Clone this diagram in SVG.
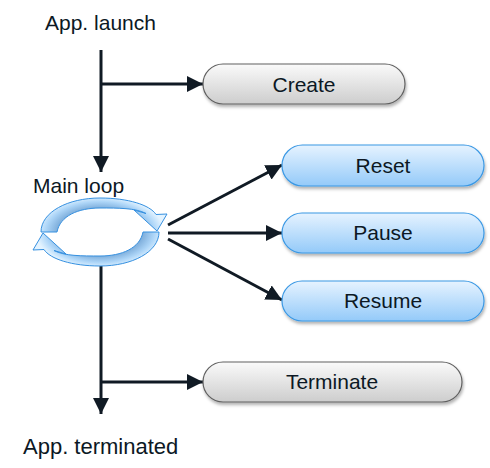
<svg xmlns="http://www.w3.org/2000/svg" width="490" height="468" viewBox="0 0 490 468">
<defs>
<linearGradient id="gGray" x1="0" y1="0" x2="0" y2="1">
<stop offset="0" stop-color="#fafafa"/><stop offset="1" stop-color="#cdcdcd"/>
</linearGradient>
<linearGradient id="gBlue" x1="0" y1="0" x2="0" y2="1">
<stop offset="0" stop-color="#e6f3ff"/><stop offset="1" stop-color="#94caf9"/>
</linearGradient>
<radialGradient id="gLoop" gradientUnits="userSpaceOnUse" cx="100" cy="232" r="64" gradientTransform="translate(100 232) scale(1 0.56) translate(-100 -232)">
<stop offset="0.62" stop-color="#72a4d4"/><stop offset="0.85" stop-color="#aed6f8"/><stop offset="1" stop-color="#e3f3ff"/>
</radialGradient>
<filter id="sh" x="-10%" y="-20%" width="120%" height="150%">
<feDropShadow dx="1" dy="2.5" stdDeviation="1.5" flood-color="#000" flood-opacity="0.3"/>
</filter>
<marker id="ah" markerUnits="userSpaceOnUse" markerWidth="17" markerHeight="16" refX="16" refY="8" orient="auto">
<path d="M0,0 L16,8 L0,16 z" fill="#101a24"/>
</marker>
<style>
.t{font-family:"Liberation Sans",Arial,sans-serif;font-size:21px;fill:#0c1824}
.c{text-anchor:middle}
.gray{fill:url(#gGray);stroke:#606060;stroke-width:1.2;filter:url(#sh)}
.blue{fill:url(#gBlue);stroke:#3a98e4;stroke-width:1.2;filter:url(#sh)}
.ln{stroke:#101a24;stroke-width:3;fill:none}
.lp{fill:url(#gLoop);stroke:#3590e0;stroke-width:1}
</style>
</defs>
<rect width="490" height="468" fill="#fff"/>

<text class="t" x="45" y="30">App. launch</text>
<text class="t" x="33" y="193">Main loop</text>
<text class="t" x="23" y="454" style="font-size:22px">App. terminated</text>

<g id="connectors">
<line class="ln" x1="101" y1="50" x2="101" y2="172" marker-end="url(#ah)"/>
<line class="ln" x1="101" y1="84" x2="203" y2="84" marker-end="url(#ah)"/>
<line class="ln" x1="101" y1="266" x2="101" y2="414" marker-end="url(#ah)"/>
<line class="ln" x1="101" y1="382" x2="203" y2="382" marker-end="url(#ah)"/>
<line class="ln" x1="168" y1="225" x2="282" y2="165" marker-end="url(#ah)"/>
<line class="ln" x1="168" y1="233" x2="282" y2="233" marker-end="url(#ah)"/>
<line class="ln" x1="168" y1="239" x2="282" y2="300" marker-end="url(#ah)"/>
</g>

<g id="loop">
<path class="lp" d="M41,232 C41,212 68,198 100,198 C128,198 150,205 156,214.5 L167,214 L157,231 L134,210 L146,213.5 C136,208 118,208 100,208 C78,208 60,216 57,232 Z"/>
<path class="lp" d="M41,232 C41,212 68,198 100,198 C128,198 150,205 156,214.5 L167,214 L157,231 L134,210 L146,213.5 C136,208 118,208 100,208 C78,208 60,216 57,232 Z" transform="rotate(180 100 232)"/>
</g>

<g id="create">
<rect class="gray" x="203" y="64" width="202" height="40" rx="20"/>
<text class="t c" x="304" y="92">Create</text>
</g>
<g id="reset">
<rect class="blue" x="282" y="145" width="202" height="41" rx="20.5"/>
<text class="t c" x="383" y="173">Reset</text>
</g>
<g id="pause">
<rect class="blue" x="282" y="213" width="202" height="40" rx="20"/>
<text class="t c" x="383" y="240">Pause</text>
</g>
<g id="resume">
<rect class="blue" x="282" y="281" width="202" height="40" rx="20"/>
<text class="t c" x="383" y="308">Resume</text>
</g>
<g id="terminate">
<rect class="gray" x="203" y="362" width="259" height="40" rx="20"/>
<text class="t c" x="332" y="389">Terminate</text>
</g>
</svg>
